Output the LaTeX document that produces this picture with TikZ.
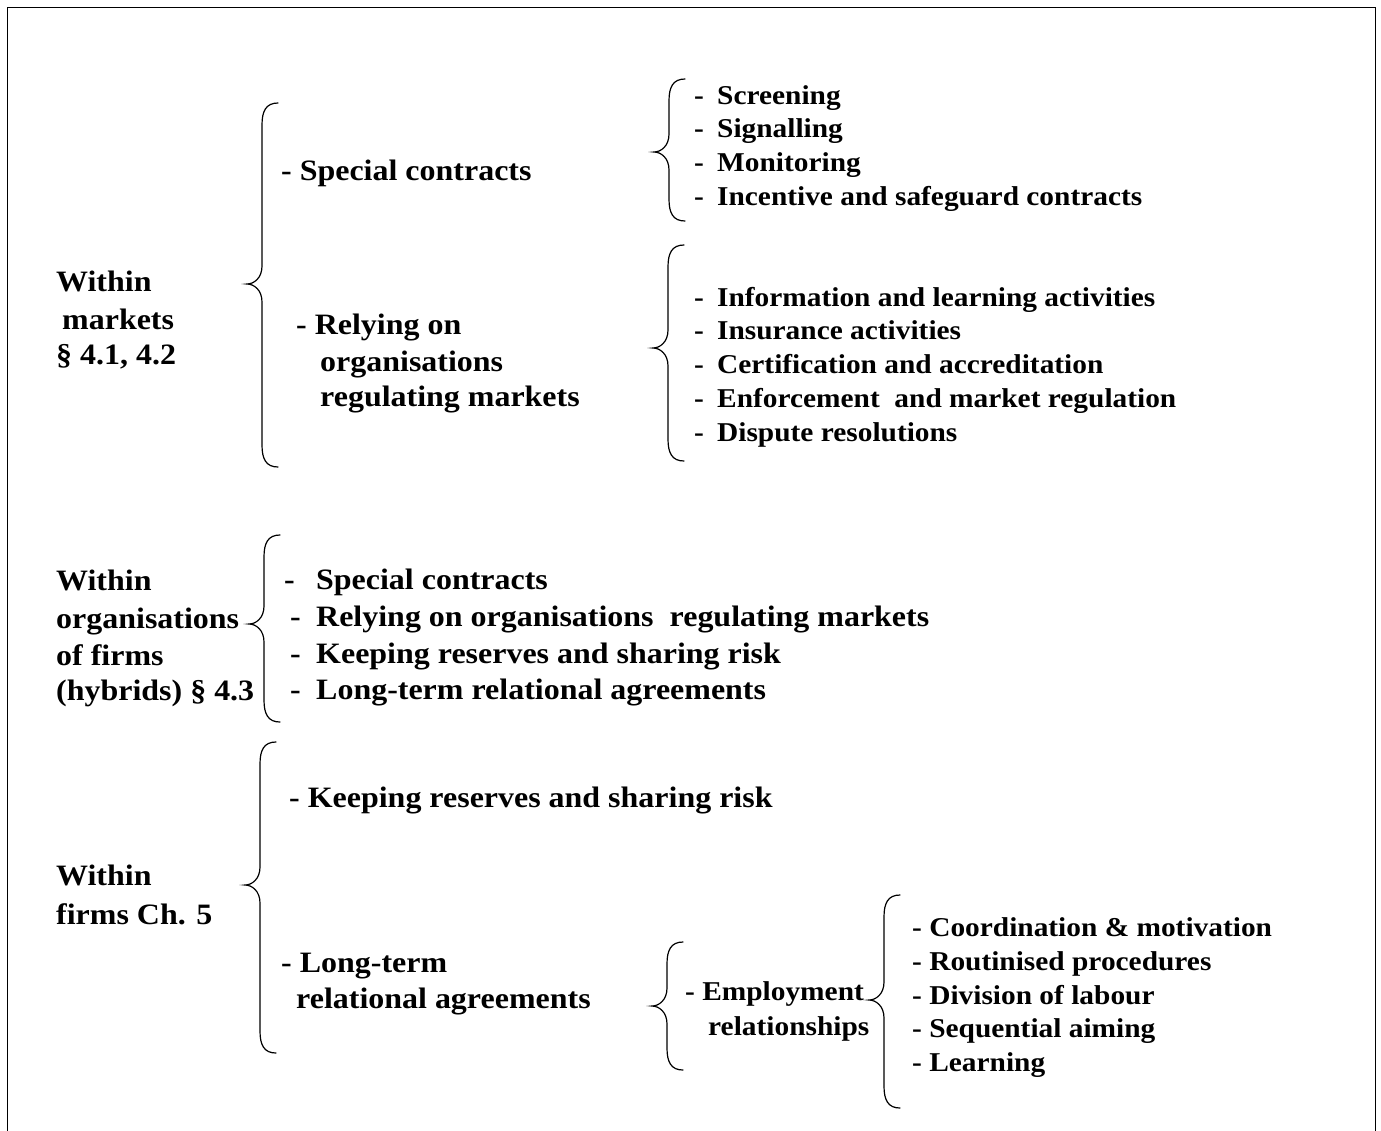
\documentclass[tikz,border=0pt]{standalone}
\usepackage{fontspec}
\setmainfont{Liberation Serif}[FakeStretch=1.08]
\begin{document}
% left curly brace: line x, top y, middle (tip) y, bottom y
\newcommand\curlybrace[4]{%
  \draw[bracestyle] (#1+16,#2) .. controls (#1+4,#2) and (#1,#2+8) .. (#1,#2+22)
    -- (#1,#3-18) .. controls (#1,#3-6) and (#1-8,#3) .. (#1-15,#3)
    .. controls (#1-8,#3) and (#1,#3+6) .. (#1,#3+18)
    -- (#1,#4-22) .. controls (#1,#4-8) and (#1+4,#4) .. (#1+16,#4);}
% bullet dash in a box of fixed width, so that the item text starts at a set place
\newcommand\itemdash[1]{\makebox[#1pt][l]{-}}
\begin{tikzpicture}[x=1pt,y=-1pt,
  bracestyle/.style={line width=1.2pt,line cap=round},
  txt/.style={anchor=base west,inner sep=0pt,font=\fontsize{29.6}{36}\selectfont\bfseries},
  small/.style={txt,font=\fontsize{27.2}{33}\selectfont\bfseries}]
\useasboundingbox (0,0) rectangle (1381,1130);
\draw[line width=1.6pt] (7.5,1140) -- (7.5,7.5) -- (1375.5,7.5) -- (1375.5,1140);

% ---- within markets ----
\node[txt] (m1) at (56,291) {Within};
\node[txt] (m2) at (62,329) {markets};
\node[txt] (m3) at (56,364) {§ 4.1, 4.2};
\curlybrace{262}{103}{284}{467}
\node[txt] (sc) at (281,180) {- Special contracts};
\node[txt] (ro1) at (296,334) {- Relying on};
\node[txt] (ro2) at (320,371) {organisations};
\node[txt] (ro3) at (320,406) {regulating markets};

\curlybrace{669}{79}{152}{221}
\node[small] (s1) at (694,104) {\itemdash{23}Screening};
\node[small] (s2) at (694,137) {\itemdash{23}Signalling};
\node[small] (s3) at (694,171) {\itemdash{23}Monitoring};
\node[small] (s4) at (694,205) {\itemdash{23}Incentive and safeguard contracts};

\curlybrace{668}{245}{348}{461}
\node[small] (r1) at (694,306) {\itemdash{23}Information and learning activities};
\node[small] (r2) at (694,339) {\itemdash{23}Insurance activities};
\node[small] (r3) at (694,373) {\itemdash{23}Certification and accreditation};
\node[small] (r4) at (694,407) {\itemdash{23}Enforcement\ \ and market regulation};
\node[small] (r5) at (694,441) {\itemdash{23}Dispute resolutions};

% ---- within organisations of firms ----
\node[txt] (h1) at (56,590) {Within};
\node[txt] (h2) at (56,628) {organisations};
\node[txt] (h3) at (56,665) {of firms};
\node[txt] (h4) at (56,700) {(hybrids) § 4.3};
\curlybrace{264}{535}{624}{722}
\node[txt] (hi1) at (284,589) {\itemdash{32}Special contracts};
\node[txt] (hi2) at (290,626) {\itemdash{26}Relying on organisations\ \ regulating markets};
\node[txt] (hi3) at (290,663) {\itemdash{26}Keeping reserves and sharing risk};
\node[txt] (hi4) at (290,699) {\itemdash{26}Long-term relational agreements};

% ---- within firms ----
\node[txt] (f1) at (56,885) {Within};
\node[txt] (f2) at (56,924) {firms Ch. 5};
\curlybrace{260}{742}{885}{1053}
\node[txt] (kr) at (289,807) {- Keeping reserves and sharing risk};
\node[txt] (lt1) at (281,972) {- Long-term};
\node[txt] (lt2) at (296,1008) {relational agreements};

\curlybrace{667}{942}{1006}{1070}
\node[small] (e1) at (685,1000) {- Employment};
\node[small] (e2) at (708,1035) {relationships};

\curlybrace{884}{895}{1000}{1108}
\node[small] (c1) at (912,936) {- Coordination \& motivation};
\node[small] (c2) at (912,970) {- Routinised procedures};
\node[small] (c3) at (912,1004) {- Division of labour};
\node[small] (c4) at (912,1037) {- Sequential aiming};
\node[small] (c5) at (912,1071) {- Learning};
\end{tikzpicture}
\end{document}
